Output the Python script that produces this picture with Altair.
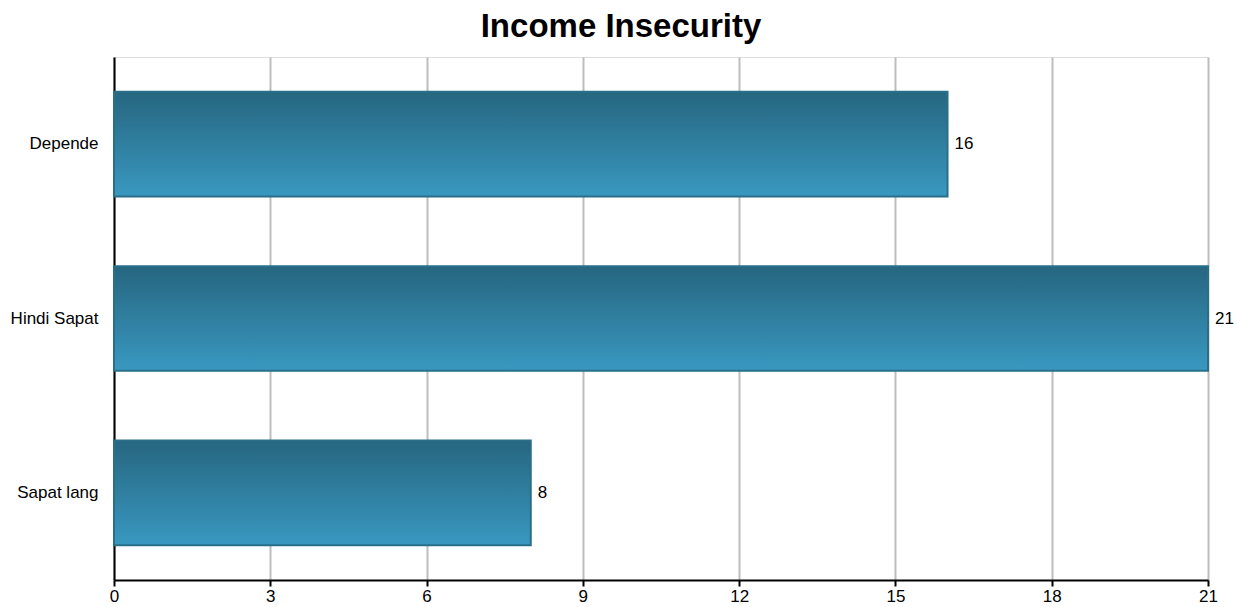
import altair as alt
import pandas as pd

# Survey responses on income insecurity
categories = ["Depende", "Hindi Sapat", "Sapat lang"]
counts = [16, 21, 8]

df = pd.DataFrame({"category": categories, "count": counts})

FONT = "Liberation Sans"

y_enc = alt.Y(
    "category:N",
    sort=categories,
    title=None,
    scale=alt.Scale(paddingInner=0.4, paddingOuter=0.2),
    axis=alt.Axis(
        domainColor="black", domainWidth=2, ticks=False,
        labelFont=FONT, labelFontSize=17, labelColor="black", labelPadding=16,
        grid=False,
    ),
)

x_enc = alt.X(
    "count:Q",
    title=None,
    scale=alt.Scale(domain=[0, 21], nice=False),
    axis=alt.Axis(
        values=[0, 3, 6, 9, 12, 15, 18, 21],
        domainColor="black", domainWidth=2,
        tickColor="black", tickWidth=2, tickSize=6,
        labelFont=FONT, labelFontSize=17, labelColor="black", labelPadding=2,
        labelFlush=False,
        grid=True, gridColor="#bdbdbd", gridWidth=2,
    ),
)

bars = alt.Chart(df).mark_bar(
    color=alt.Gradient(
        gradient="linear",
        x1=0, x2=0, y1=0, y2=1,
        stops=[
            alt.GradientStop(color="#266680", offset=0),
            alt.GradientStop(color="#3998c0", offset=1),
        ],
    ),
    stroke="#2a6f8a",
    strokeWidth=2,
).encode(x=x_enc, y=y_enc)

labels = alt.Chart(df).mark_text(
    align="left", baseline="middle", dx=7,
    font=FONT, fontSize=17, color="black",
).encode(x="count:Q", y=alt.Y("category:N", sort=categories), text="count:Q")

chart = (
    alt.layer(bars, labels)
    .properties(
        width=1094,
        height=523,
        title=alt.TitleParams(
            "Income Insecurity", font=FONT, fontSize=33, fontWeight="bold",
            color="black", anchor="middle", offset=13, dx=-40,
        ),
        autosize=alt.AutoSizeParams(type="none"),
        padding={"left": 114, "top": 57, "right": 31, "bottom": 27},
    )
    .configure_view(stroke="transparent", strokeWidth=0, strokeOpacity=0)
    .configure(background="white")
)

chart.save("out.html", embed_options={"renderer": "svg", "actions": False})
